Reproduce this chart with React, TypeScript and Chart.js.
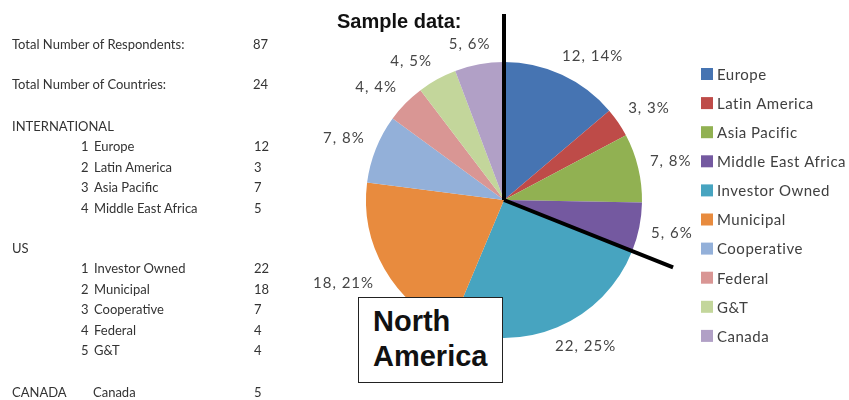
import React, { useEffect, useRef } from "react";
import { Chart, registerables } from "chart.js";

Chart.register(...registerables);

const categories = [
  "Europe",
  "Latin America",
  "Asia Pacific",
  "Middle East Africa",
  "Investor Owned",
  "Municipal",
  "Cooperative",
  "Federal",
  "G&T",
  "Canada",
];
const counts = [12, 3, 7, 5, 22, 18, 7, 4, 4, 5];
const percents = [14, 3, 8, 6, 25, 21, 8, 4, 5, 6];
const colors = [
  "#4674B2",
  "#BE4B48",
  "#91B152",
  "#7459A0",
  "#47A4C0",
  "#E88B3E",
  "#93B0D9",
  "#D99694",
  "#C3D69B",
  "#B1A0C6",
];

const totalRespondents = 87;
const totalCountries = 24;
const internationalCount = 4; // first 4 categories are international
const usCount = 5; // next 5 are US

const LABEL_FONT = "Lato, 'Open Sans', sans-serif";

const clamp = (v: number) => Math.max(-1, Math.min(1, v));

const overlayPlugin = {
  id: "overlay",
  afterDatasetsDraw(chart: any) {
    const ctx = chart.ctx as CanvasRenderingContext2D;
    const meta = chart.getDatasetMeta(0);
    const arcs = meta.data as any[];
    if (!arcs.length) return;
    const cx = arcs[0].x;
    const cy = arcs[0].y;
    const R = arcs[0].outerRadius;

    // data labels (outside end, box anchored toward the arc)
    ctx.save();
    ctx.font = `15px ${LABEL_FONT}`;
    (ctx as any).letterSpacing = "1px";
    ctx.fillStyle = "#454545";
    ctx.textAlign = "center";
    ctx.textBaseline = "middle";
    arcs.forEach((arc, i) => {
      const text = `${counts[i]}, ${percents[i]}%`;
      const w = ctx.measureText(text).width;
      const h = 16;
      const mid = (arc.startAngle + arc.endAngle) / 2;
      const dx = Math.cos(mid);
      const dy = Math.sin(mid);
      const d = R + 12;
      const x = cx + dx * d + (w / 2) * clamp(dx * 2);
      const y = cy + dy * d + (h / 2) * clamp(dy * 2);
      ctx.fillText(text, x, y);
    });
    ctx.restore();

    // thick separator lines
    ctx.save();
    ctx.strokeStyle = "#000";
    ctx.lineWidth = 4;
    ctx.lineCap = "butt";
    const len = R + 48;
    const angles = [arcs[0].startAngle, arcs[internationalCount - 1].endAngle];
    angles.forEach((a, k) => {
      const l = k === 0 ? len : len - 4;
      ctx.beginPath();
      ctx.moveTo(cx, cy);
      ctx.lineTo(cx + Math.cos(a) * l, cy + Math.sin(a) * l);
      ctx.stroke();
    });
    ctx.restore();

    // legend
    ctx.save();
    ctx.font = `15px ${LABEL_FONT}`;
    (ctx as any).letterSpacing = "0.5px";
    ctx.textBaseline = "middle";
    ctx.textAlign = "left";
    const data = chart.data;
    data.labels.forEach((lab: string, i: number) => {
      const y = 74 + i * 29.1;
      ctx.fillStyle = data.datasets[0].backgroundColor[i];
      ctx.fillRect(701, y - 6, 12, 12);
      ctx.fillStyle = "#404040";
      ctx.fillText(lab, 717, y + 1);
    });
    ctx.restore();
  },
};

const rowStyle = (top: number, left: number): React.CSSProperties => ({
  position: "absolute",
  top: top - 8,
  left,
  lineHeight: "16px",
  whiteSpace: "nowrap",
});

export default function App() {
  const canvasRef = useRef<HTMLCanvasElement | null>(null);

  useEffect(() => {
    if (!canvasRef.current) return;
    const chart = new Chart(canvasRef.current, {
      type: "pie",
      data: {
        labels: categories,
        datasets: [
          {
            data: counts,
            backgroundColor: colors,
            borderWidth: 0,
          },
        ],
      },
      plugins: [overlayPlugin],
      options: {
        responsive: false,
        animation: false,
        layout: { padding: { left: 365, right: 206, top: 62, bottom: 62 } },
        plugins: {
          legend: { display: false },
          tooltip: { enabled: false },
          title: { display: false },
        },
      },
    });
    return () => chart.destroy();
  }, []);

  const textColor = "#333";
  const intl = categories.slice(0, internationalCount);
  const us = categories.slice(internationalCount, internationalCount + usCount);
  const canada = categories.slice(internationalCount + usCount);

  return (
    <div
      style={{
        position: "fixed",
        left: 0,
        top: 0,
        width: 849,
        height: 400,
        background: "#fff",
        overflow: "hidden",
        fontFamily: "Lato, 'Open Sans', sans-serif",
        fontSize: 13,
        color: textColor,
      }}
    >
      <canvas ref={canvasRef} width={849} height={400} style={{ position: "absolute", left: 0, top: 0 }} />

      <div style={rowStyle(44, 12)}>Total Number of Respondents:</div>
      <div style={rowStyle(44, 253)}>{totalRespondents}</div>
      <div style={rowStyle(84, 12)}>Total Number of Countries:</div>
      <div style={rowStyle(84, 253)}>{totalCountries}</div>

      <div style={rowStyle(126, 12)}>INTERNATIONAL</div>
      {intl.map((c, i) => (
        <React.Fragment key={c}>
          <div style={rowStyle(146 + i * 20.7, 81)}>{i + 1}</div>
          <div style={rowStyle(146 + i * 20.7, 94)}>{c}</div>
          <div style={rowStyle(146 + i * 20.7, 254)}>{counts[i]}</div>
        </React.Fragment>
      ))}

      <div style={rowStyle(248, 12)}>US</div>
      {us.map((c, i) => (
        <React.Fragment key={c}>
          <div style={rowStyle(268 + i * 20.5, 81)}>{i + 1}</div>
          <div style={rowStyle(268 + i * 20.5, 94)}>{c}</div>
          <div style={rowStyle(268 + i * 20.5, 254)}>{counts[internationalCount + i]}</div>
        </React.Fragment>
      ))}

      <div style={rowStyle(392, 12)}>CANADA</div>
      {canada.map((c, i) => (
        <React.Fragment key={c}>
          <div style={rowStyle(392, 93)}>{c}</div>
          <div style={rowStyle(392, 254)}>{counts[internationalCount + usCount + i]}</div>
        </React.Fragment>
      ))}

      <div
        style={{
          position: "absolute",
          left: 337,
          top: 10,
          fontFamily: "'Liberation Sans', Arial, sans-serif",
          fontWeight: 700,
          fontSize: 20,
          color: "#111",
          lineHeight: "22px",
          whiteSpace: "nowrap",
        }}
      >
        Sample data:
      </div>

      <div
        style={{
          position: "absolute",
          left: 358,
          top: 297,
          width: 145,
          height: 86,
          boxSizing: "border-box",
          border: "1.5px solid #222",
          background: "#fff",
          fontFamily: "'Liberation Sans', Arial, sans-serif",
          fontWeight: 700,
          fontSize: 29,
          lineHeight: "35px",
          color: "#111",
          paddingLeft: 14,
          paddingTop: 6,
        }}
      >
        North
        <br />
        America
      </div>
    </div>
  );
}
